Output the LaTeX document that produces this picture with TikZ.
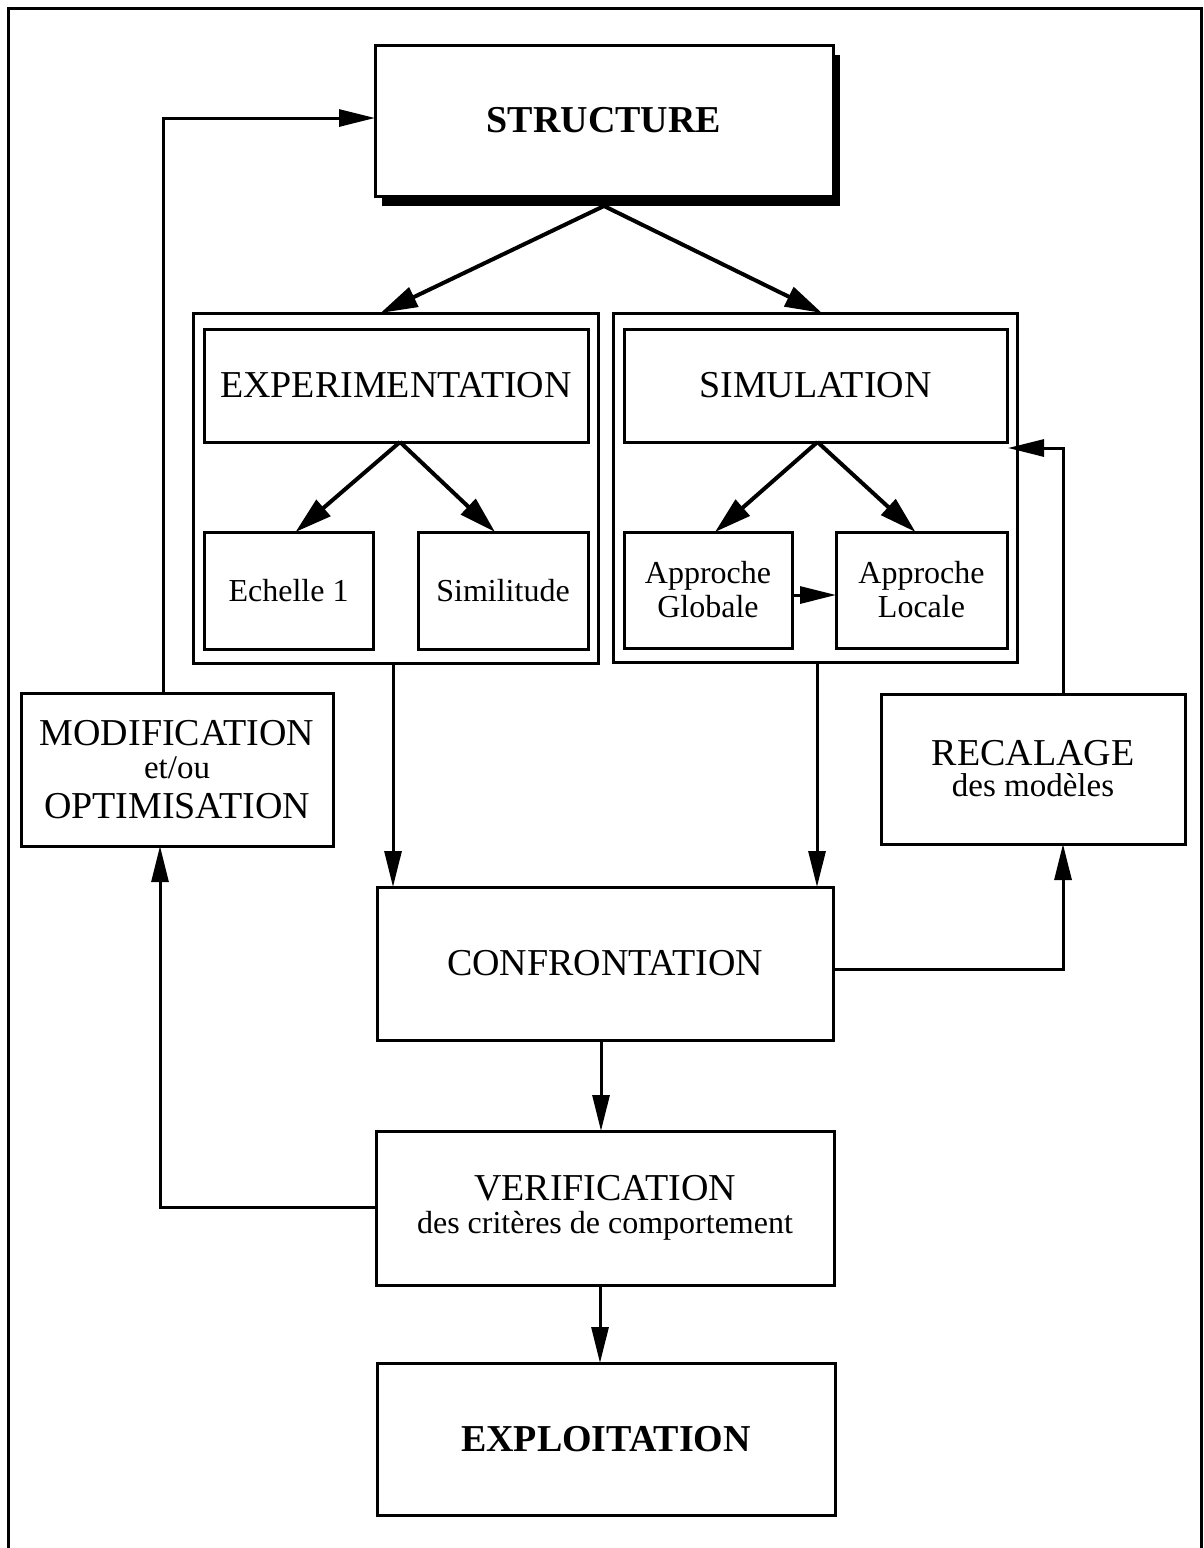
\documentclass[tikz,border=0pt]{standalone}
\usepackage{fontspec}
\setmainfont{Liberation Serif}
\usetikzlibrary{arrows.meta,calc,shadows}
\begin{document}
\begin{tikzpicture}[x=1pt,y=-1pt,
  box/.style={draw,line width=3pt,fill=white,inner sep=0pt,outer sep=0pt,align=center},
  big/.style={font=\fontsize{38}{38}\selectfont},
  small/.style={font=\fontsize{32}{34}\selectfont},
  arr/.style={line width=3pt,-{Triangle[length=36pt,width=17pt]}},
  darr/.style={line width=4pt,-{Triangle[length=37pt,width=21pt]}},
  ln/.style={line width=3pt}]
\useasboundingbox (0,0) rectangle (1204,1548);
\draw[ln] (8,1548) -- (8,8) -- (1201,8) -- (1201,1548);

% nodes
\node[box,font=\fontsize{38}{38}\selectfont\bfseries,minimum width=458pt,minimum height=151pt,
  drop shadow={shadow xshift=7pt,shadow yshift=-10pt,fill=black,opacity=1}] (struct) at (604,120.5) {STRUCTURE};

\node[box,minimum width=405pt,minimum height=350pt] (expgrp) at (395.5,488) {};
\node[box,big,minimum width=384pt,minimum height=113pt] (exp) at (396,385.5) {EXPERIMENTATION};
\node[box,small,minimum width=169pt,minimum height=117pt] (ech) at (288.5,590.5) {Echelle 1};
\node[box,small,minimum width=170pt,minimum height=117pt] (simil) at (503,590.5) {Similitude};

\node[box,minimum width=404pt,minimum height=349pt] (simgrp) at (815,487.5) {};
\node[box,big,minimum width=383pt,minimum height=113pt] (simu) at (815.5,385.5) {SIMULATION};
\node[box,small,minimum width=168pt,minimum height=116pt] (glob) at (708,590) {Approche\\[0pt]Globale};
\node[box,small,minimum width=171pt,minimum height=116pt] (loc) at (921.5,590) {Approche\\[0pt]Locale};

\node[box,big,minimum width=312pt,minimum height=153pt] (modif) at (177,769.5)
  {MODIFICATION\\[-5pt]{\fontsize{33}{33}\selectfont et/ou}\\[2pt]OPTIMISATION};
\node[box,big,minimum width=304pt,minimum height=150pt] (recal) at (1033,769)
  {RECALAGE\\[-7pt]{\fontsize{33}{33}\selectfont des modèles}};

\node[box,big,minimum width=456pt,minimum height=153pt] (conf) at (605,963.5) {CONFRONTATION};
\node[box,big,minimum width=458pt,minimum height=154pt] (verif) at (605,1208)
  {VERIFICATION\\[-5pt]{\fontsize{32}{32}\selectfont des critères de comportement}};
\node[box,font=\fontsize{38}{38}\selectfont\bfseries,minimum width=458pt,minimum height=152pt] (explo) at (606,1439) {EXPLOITATION};

% connectors
\coordinate (stbot) at ($(struct.south)+(0,10)$);
\draw[darr] (stbot) -- ($(expgrp.north)+(-15,0)$);
\draw[darr] (stbot) -- ($(simgrp.north)+(7,0)$);

\coordinate (exbot) at ($(exp.south)+(4,0)$);
\draw[darr] (exbot) -- ($(ech.north)+(7,0)$);
\draw[darr] (exbot) -- ($(simil.north)+(-8,0)$);

\coordinate (sibot) at ($(simu.south)+(2,0)$);
\draw[darr] (sibot) -- ($(glob.north)+(7,0)$);
\draw[darr] (sibot) -- ($(loc.north)+(-6,0)$);

\draw[arr] ($(glob.east)+(0,5)$) -- ($(loc.west)+(0,5)$);

\coordinate (a1) at ($(expgrp.south)+(-2.5,0)$);
\draw[arr] (a1) -- (a1 |- conf.north);
\coordinate (a2) at ($(simgrp.south)+(2,0)$);
\draw[arr] (a2) -- (a2 |- conf.north);
\coordinate (a3) at ($(conf.south)+(-4,0)$);
\draw[arr] (a3) -- (a3 |- verif.north);
\coordinate (a4) at ($(verif.south)+(-5,0)$);
\draw[arr] (a4) -- (a4 |- explo.north);

\draw[arr] ($(conf.east)+(0,6)$) -| ($(recal.south)+(30,0)$);
\coordinate (simtip) at ($(simu.south east)+(1,6)$);
\draw[arr] ($(recal.north)+(30,0)$) |- (simtip);
\draw[arr] ($(verif.west)+(0,-1)$) -| ($(modif.south)+(-17,0)$);
\draw[arr] ($(modif.north)+(-14,0)$) |- ($(struct.west)+(0,-2.5)$);
\end{tikzpicture}
\end{document}
